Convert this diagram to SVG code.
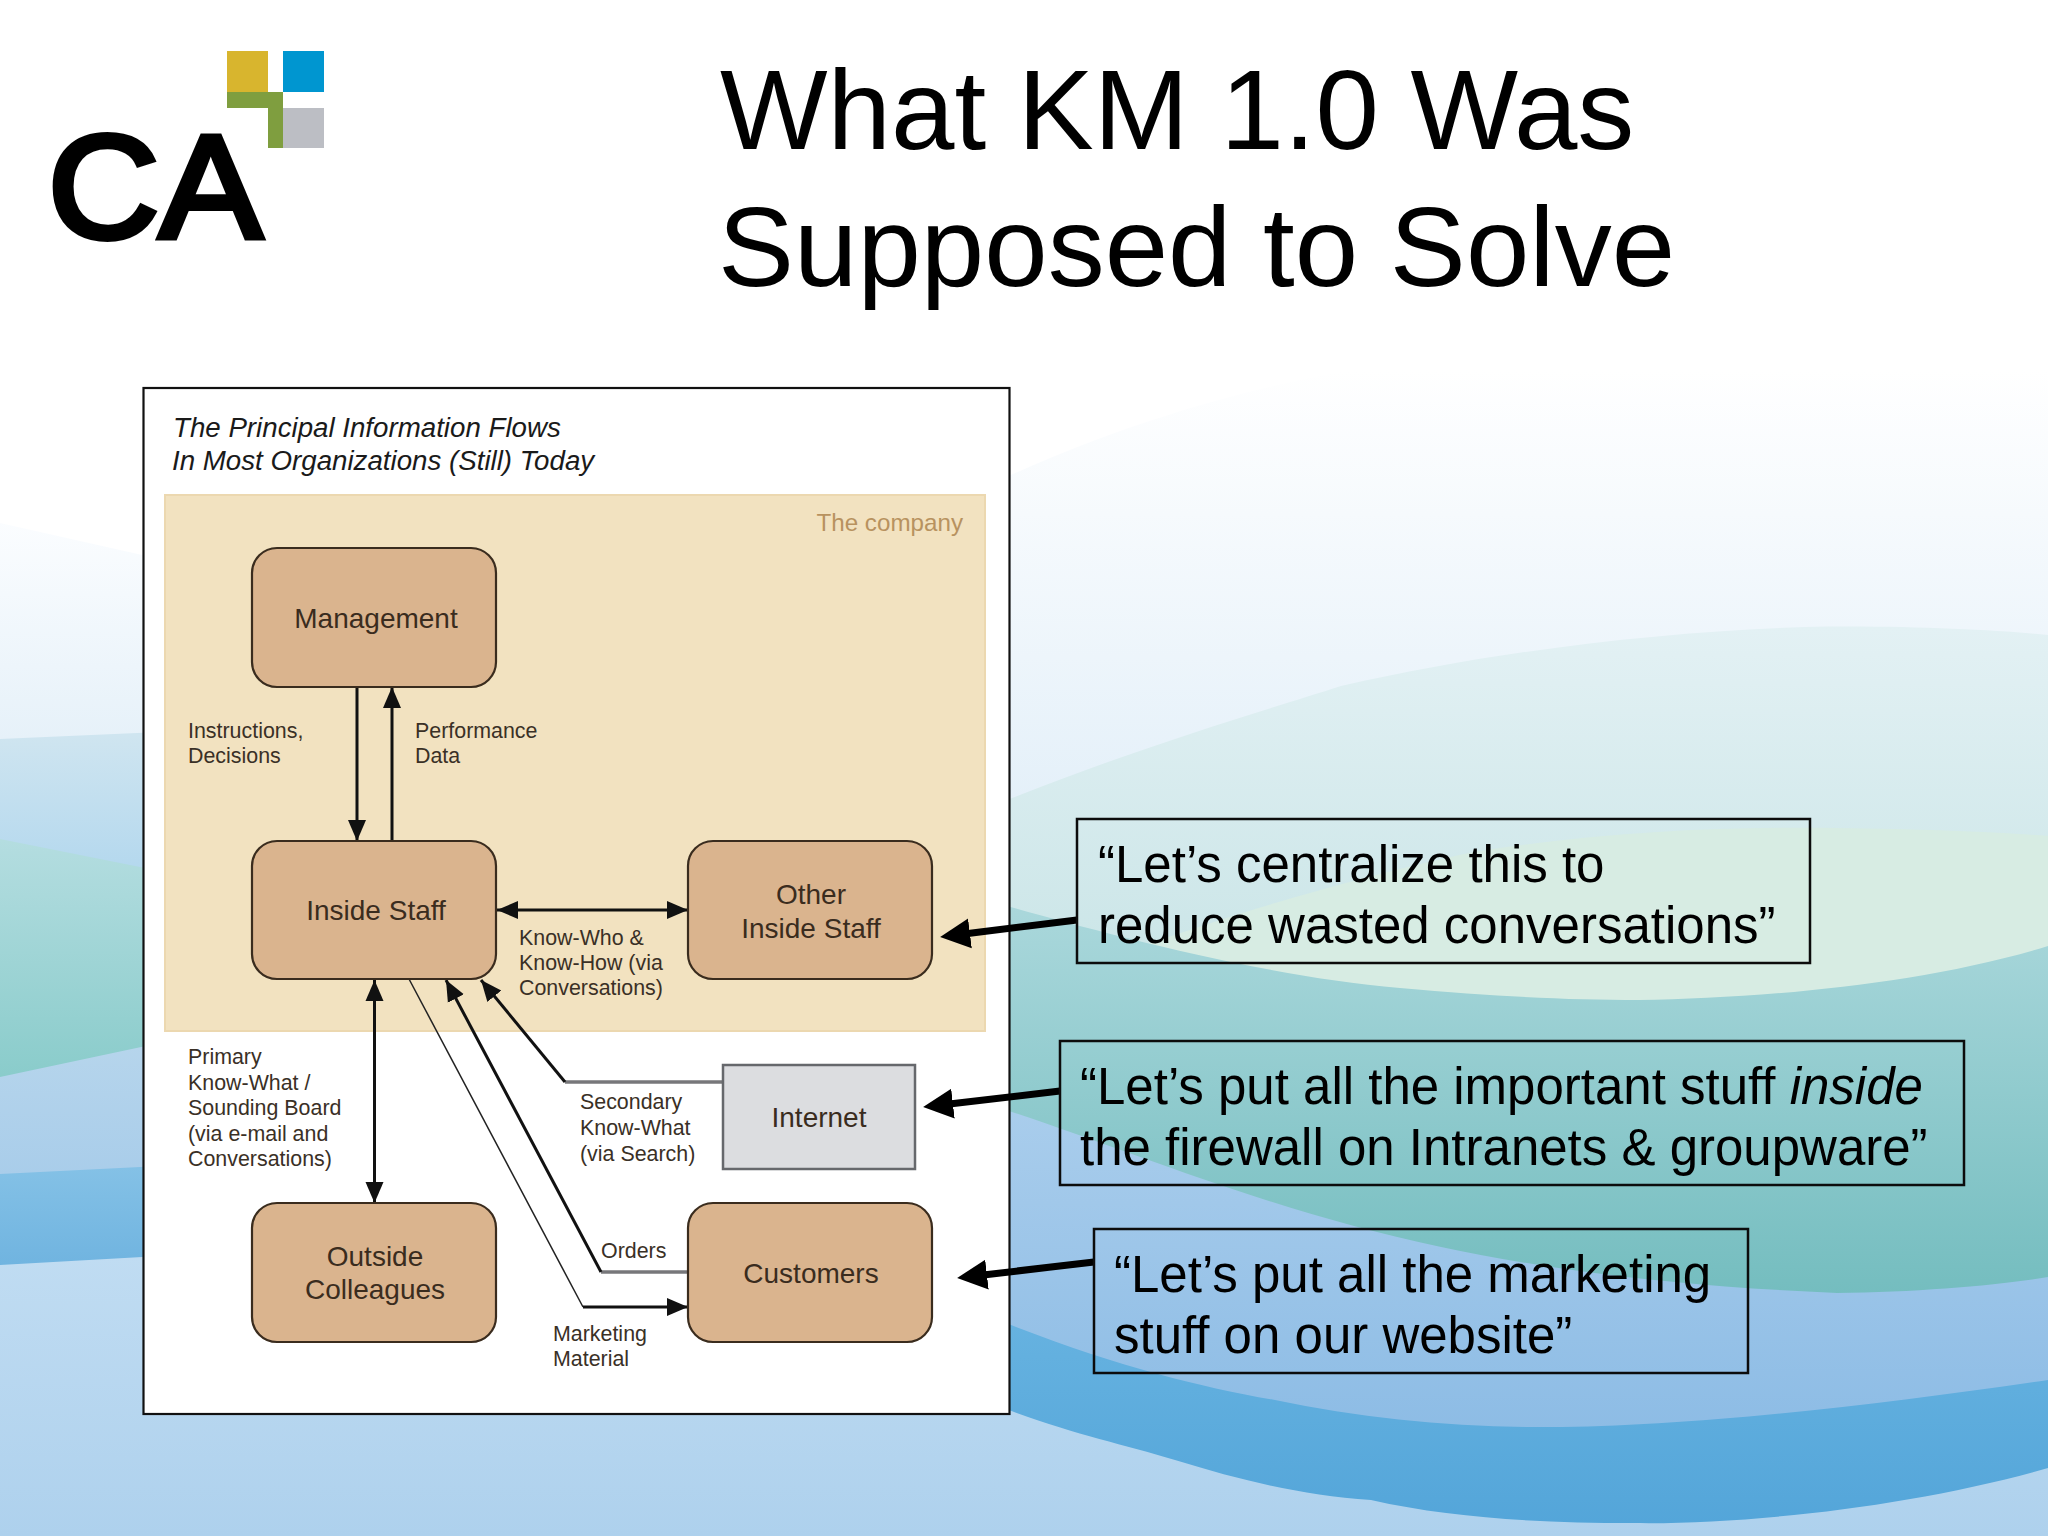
<svg xmlns="http://www.w3.org/2000/svg" width="2048" height="1536" viewBox="0 0 2048 1536">
<style>
text{font-family:"Liberation Sans",Arial,sans-serif}
.title{font-size:114px;fill:#000}
.call{font-size:51px;fill:#000}
.cbox{fill:none;stroke:#0c0c0c;stroke-width:2.5}
.node{fill:#dab48e;stroke:#3a2c1e;stroke-width:2.2}
.nt{font-size:28px;fill:#3a2c1e;text-anchor:middle}
.lb{font-size:21.400px;fill:#3a3026}
.hd{font-size:27.700px;font-style:italic;fill:#1a1a1a}
.ln{fill:none;stroke:#111;stroke-width:3}
.thin{fill:none;stroke:#222;stroke-width:1.500}
.gray{fill:none;stroke:#77777a;stroke-width:3.500}
.big{fill:none;stroke:#000;stroke-width:7}
</style>
<defs>
<marker id="a" markerUnits="userSpaceOnUse" markerWidth="22" markerHeight="20" refX="21" refY="10" orient="auto-start-reverse"><path d="M0 1L21 10L0 19Z" fill="#111"/></marker>
<marker id="b" markerUnits="userSpaceOnUse" markerWidth="32" markerHeight="32" refX="10" refY="16" orient="auto"><path d="M0 1L30 16L0 31Z" fill="#000"/></marker>
<linearGradient id="g0" gradientUnits="userSpaceOnUse" x1="0" y1="370" x2="0" y2="800"><stop offset="0" stop-color="#ffffff"/><stop offset="1" stop-color="#e4f0f9"/></linearGradient>
<linearGradient id="l0" gradientUnits="userSpaceOnUse" x1="0" y1="520" x2="0" y2="740"><stop offset="0" stop-color="#fbfdff"/><stop offset="1" stop-color="#e6f1f9"/></linearGradient>
<linearGradient id="g1" gradientUnits="userSpaceOnUse" x1="0" y1="627" x2="0" y2="1000"><stop offset="0" stop-color="#e3f1f4"/><stop offset="1" stop-color="#c8e4e6"/></linearGradient>
<linearGradient id="g2" gradientUnits="userSpaceOnUse" x1="0" y1="900" x2="0" y2="1295"><stop offset="0" stop-color="#abd8dc"/><stop offset="1" stop-color="#74bdbf"/></linearGradient>
<linearGradient id="g3" gradientUnits="userSpaceOnUse" x1="0" y1="1110" x2="0" y2="1430"><stop offset="0" stop-color="#a9cdec"/><stop offset="1" stop-color="#8dbce5"/></linearGradient>
<linearGradient id="g4" gradientUnits="userSpaceOnUse" x1="0" y1="1325" x2="0" y2="1530"><stop offset="0" stop-color="#66b2e0"/><stop offset="1" stop-color="#53a5d9"/></linearGradient>
<linearGradient id="g5" gradientUnits="userSpaceOnUse" x1="0" y1="1255" x2="0" y2="1536"><stop offset="0" stop-color="#c0dcf2"/><stop offset="1" stop-color="#aed1ed"/></linearGradient>
<linearGradient id="l1" gradientUnits="userSpaceOnUse" x1="0" y1="735" x2="0" y2="870"><stop offset="0" stop-color="#cfe5f0"/><stop offset="1" stop-color="#b4d8ee"/></linearGradient>
<linearGradient id="l2" gradientUnits="userSpaceOnUse" x1="0" y1="840" x2="0" y2="1075"><stop offset="0" stop-color="#b4dde0"/><stop offset="1" stop-color="#8acccb"/></linearGradient>
<linearGradient id="l3" gradientUnits="userSpaceOnUse" x1="0" y1="1045" x2="0" y2="1175"><stop offset="0" stop-color="#b6d5ec"/><stop offset="1" stop-color="#a9cdea"/></linearGradient>
<linearGradient id="l4" gradientUnits="userSpaceOnUse" x1="0" y1="1167" x2="0" y2="1265"><stop offset="0" stop-color="#84c1e6"/><stop offset="1" stop-color="#70b4e0"/></linearGradient>
</defs>

<g id="background">
<rect width="2048" height="1536" fill="#fff"/>
<path d="M0 523L160 559L160 1536L0 1536Z" fill="url(#l0)"/>
<path d="M0 739L160 732L160 1536L0 1536Z" fill="url(#l1)"/>
<path d="M0 839L160 871L160 1536L0 1536Z" fill="url(#l2)"/>
<path d="M0 1077L160 1043L160 1536L0 1536Z" fill="url(#l3)"/>
<path d="M0 1174L160 1166L160 1536L0 1536Z" fill="url(#l4)"/>
<path d="M0 1265L160 1256L160 1536L0 1536Z" fill="url(#g5)"/>
<path d="M1000 480C1130 420 1260 385 1367 367C1600 350 1850 345 2048 370L2048 1536L1000 1536Z" fill="url(#g0)"/>
<path d="M1000 803C1130 750 1260 712 1341 686C1500 650 1660 632 1804 627C1900 625 2000 630 2048 635L2048 1536L1000 1536Z" fill="url(#g1)"/>
<path d="M1000 1002C1130 945 1300 890 1473 852C1600 832 1720 826 1837 828C1920 829 2000 832 2048 836L2048 1536L1000 1536Z" fill="#d7ece3"/>
<path d="M1000 904C1076 925 1250 975 1400 988C1500 997 1570 1000 1639 1000C1760 998 1920 985 2048 946L2048 1536L1000 1536Z" fill="url(#g2)"/>
<path d="M1000 1108C1100 1140 1220 1190 1354 1226C1500 1265 1650 1285 1837 1293C1920 1292 2000 1285 2048 1277L2048 1536L1000 1536Z" fill="url(#g3)"/>
<path d="M950 1300C1090 1360 1190 1385 1275 1400C1360 1418 1450 1427 1540 1427C1680 1428 1880 1405 2048 1380L2048 1536L950 1536Z" fill="url(#g4)"/>
<path d="M960 1390C1050 1430 1110 1440 1175 1460C1240 1480 1300 1495 1371 1500C1450 1518 1540 1523 1632 1523C1750 1525 1920 1505 2048 1468L2048 1536L900 1536L900 1390Z" fill="url(#g5)"/>
<path d="M140 1390L960 1390L1060 1536L140 1536Z" fill="url(#g5)"/>
</g>

<g id="logo">
<rect x="227" y="51" width="41" height="41" fill="#d8b52e"/>
<rect x="283" y="51" width="41" height="41" fill="#0096d0"/>
<path d="M227 92H283V148H268V108H227Z" fill="#7f9e3f"/>
<rect x="283" y="108" width="41" height="40" fill="#bcbec4"/>
<text x="48" y="238" font-size="146" fill="#000" stroke="#000" stroke-width="6" textLength="214" lengthAdjust="spacingAndGlyphs">CA</text>
</g>

<g id="title">
<text class="title" x="720" y="149">What KM 1.0 Was</text>
<text class="title" x="718" y="286">Supposed to Solve</text>
</g>

<rect id="panel" x="143.500" y="388" width="866" height="1026" fill="#fff" stroke="#111" stroke-width="2.200"/>
<g id="panel-heading">
<text class="hd" x="173" y="437">The Principal Information Flows</text>
<text class="hd" x="172" y="470">In Most Organizations (Still) Today</text>
</g>

<g id="company">
<rect x="165" y="495" width="820" height="536" fill="#f2e2c0" stroke="#ecd8b0" stroke-width="2"/>
<text x="963" y="531" text-anchor="end" font-size="24.200" fill="#b8925f">The company</text>
</g>

<g id="connectors">
<path class="ln" d="M357 687V841" marker-end="url(#a)"/>
<path class="ln" d="M392 841V687" marker-end="url(#a)"/>
<path class="ln" d="M497 910H688" marker-start="url(#a)" marker-end="url(#a)"/>
<path class="ln" d="M374.500 980V1203" marker-start="url(#a)" marker-end="url(#a)"/>
<path class="thin" d="M409 979L583 1307"/>
<path class="ln" d="M583 1307H688" marker-end="url(#a)"/>
<path class="gray" d="M688 1272H601"/>
<path class="ln" d="M601 1272L446 980" marker-end="url(#a)"/>
<path class="gray" d="M722 1082H565"/>
<path class="ln" d="M565 1082L481 980" marker-end="url(#a)"/>
<path class="big" d="M1077 920L960 934.500" marker-end="url(#b)"/>
<path class="big" d="M1060 1091L943 1104.700" marker-end="url(#b)"/>
<path class="big" d="M1094 1262L977 1275.700" marker-end="url(#b)"/>
</g>

<g id="management"><rect class="node" x="252" y="548" width="244" height="139" rx="25"/><text class="nt" x="376" y="628">Management</text></g>
<g id="inside-staff"><rect class="node" x="252" y="841" width="244" height="138" rx="25"/><text class="nt" x="376" y="920">Inside Staff</text></g>
<g id="other-inside-staff"><rect class="node" x="688" y="841" width="244" height="138" rx="25"/><text class="nt" x="811" y="904">Other</text><text class="nt" x="811" y="938">Inside Staff</text></g>
<g id="outside-colleagues"><rect class="node" x="252" y="1203" width="244" height="139" rx="25"/><text class="nt" x="375" y="1266">Outside</text><text class="nt" x="375" y="1299">Colleagues</text></g>
<g id="customers"><rect class="node" x="688" y="1203" width="244" height="139" rx="25"/><text class="nt" x="811" y="1283">Customers</text></g>
<g id="internet"><rect x="723" y="1065" width="192" height="104" fill="#dcdde0" stroke="#66686c" stroke-width="2.500"/><text class="nt" x="819" y="1127">Internet</text></g>

<g id="flow-labels">
<text class="lb" x="188" y="738">Instructions,</text><text class="lb" x="188" y="763">Decisions</text>
<text class="lb" x="415" y="738">Performance</text><text class="lb" x="415" y="763">Data</text>
<text class="lb" x="519" y="945">Know-Who &amp;</text><text class="lb" x="519" y="970">Know-How (via</text><text class="lb" x="519" y="995">Conversations)</text>
<text class="lb" x="188" y="1064">Primary</text><text class="lb" x="188" y="1090">Know-What /</text><text class="lb" x="188" y="1115">Sounding Board</text><text class="lb" x="188" y="1141">(via e-mail and</text><text class="lb" x="188" y="1166">Conversations)</text>
<text class="lb" x="580" y="1109">Secondary</text><text class="lb" x="580" y="1135">Know-What</text><text class="lb" x="580" y="1161">(via Search)</text>
<text class="lb" x="601" y="1258">Orders</text>
<text class="lb" x="553" y="1341">Marketing</text><text class="lb" x="553" y="1366">Material</text>
</g>

<g id="callout-1"><rect class="cbox" x="1077" y="819" width="733" height="144"/><text class="call" x="1098" y="882">“Let’s centralize this to</text><text class="call" x="1098" y="943">reduce wasted conversations”</text></g>
<g id="callout-2"><rect class="cbox" x="1060" y="1041" width="904" height="144"/><text class="call" x="1080" y="1104">“Let’s put all the important stuff <tspan font-style="italic">inside</tspan></text><text class="call" x="1080" y="1165">the firewall on Intranets &amp; groupware”</text></g>
<g id="callout-3"><rect class="cbox" x="1094" y="1229" width="654" height="144"/><text class="call" x="1114" y="1292">“Let’s put all the marketing</text><text class="call" x="1114" y="1353">stuff on our website”</text></g>
</svg>
